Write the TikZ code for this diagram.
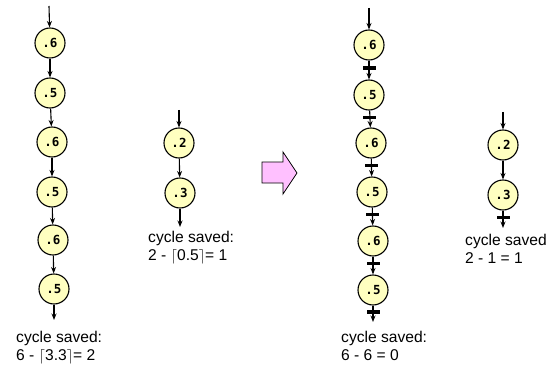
\documentclass[tikz,border=0pt]{standalone}
\usepackage{fontspec}
\setmainfont{Liberation Sans}
\newfontfamily\nodefont{DejaVu Sans Mono}
\usetikzlibrary{arrows.meta}
\begin{document}
\begin{tikzpicture}[x=1pt,y=-1pt,
  val/.style={circle,draw=black,line width=1.1pt,fill={rgb,255:red,255;green,255;blue,192},minimum size=30pt,inner sep=0pt,font=\nodefont\bfseries\fontsize{12.5}{12.5}\selectfont},
  conn/.style={line width=1.1pt,-{Stealth[length=6.5pt,width=5pt]}},
  bar/.style={fill=black,inner sep=0pt,minimum width=13pt,minimum height=3.5pt,draw=none,rectangle},
  lbl/.style={anchor=north west,inner sep=0pt,align=left,font=\fontsize{15.6}{17.5}\selectfont}]
\useasboundingbox (0,0) rectangle (555,369);
% left column
\coordinate (l0) at (49,6);
\node[val] (l1) at (50,43) {.6};
\node[val] (l2) at (50,93) {.5};
\node[val] (l3) at (52,142) {.6};
\node[val] (l4) at (52,192) {.5};
\node[val] (l5) at (53,240) {.6};
\node[val] (l6) at (54,289) {.5};
\coordinate (l7) at (54,320);
\draw[conn] (l0) -- (l1);
\draw[conn] (l1) -- (l2);
\draw[conn] (l2) -- (l3);
\draw[conn] (l3) -- (l4);
\draw[conn] (l4) -- (l5);
\draw[conn] (l5) -- (l6);
\draw[conn] (l6) -- (l7);
\node[lbl] (lt) at (16,331) {cycle saved:\\6 - $\lceil$3.3$\rceil$= 2};
% middle column
\coordinate (m0) at (179,110);
\node[val] (m1) at (179,143) {.2};
\node[val] (m2) at (180,193) {.3};
\coordinate (m3) at (180,227);
\draw[conn] (m0) -- (m1);
\draw[conn] (m1) -- (m2);
\draw[conn] (m2) -- (m3);
\node[lbl] (mt) at (148,231) {cycle saved:\\2 - $\lceil$0.5$\rceil$= 1};
% big arrow
\draw[line width=0.8pt,fill={rgb,255:red,255;green,192;blue,255}]
  (262,162) -- (283,162) -- (283,152) -- (297,173) -- (283,194) -- (283,183) -- (262,183) -- cycle;
% right column
\coordinate (r0) at (369,8);
\node[val] (r1) at (369,45) {.6};
\node[val] (r2) at (369,95) {.5};
\node[val] (r3) at (371,143) {.6};
\node[val] (r4) at (372,192) {.5};
\node[val] (r5) at (373,241) {.6};
\node[val] (r6) at (373,290) {.5};
\coordinate (r7) at (373,322);
\draw[conn] (r0) -- (r1);
\draw[conn] (r1) -- node[bar,pos=0.4]{} (r2);
\draw[conn] (r2) -- node[bar,pos=0.4]{} (r3);
\draw[conn] (r3) -- node[bar,pos=0.4]{} (r4);
\draw[conn] (r4) -- node[bar,pos=0.4]{} (r5);
\draw[conn] (r5) -- node[bar,pos=0.4]{} (r6);
\draw[conn] (r6) -- node[bar,pos=0.4]{} (r7);
\node[lbl] (rt) at (341,331) {cycle saved:\\6 - 6 = 0};
% right small column
\coordinate (s0) at (503,112);
\node[val] (s1) at (503,145) {.2};
\node[val] (s2) at (503,195) {.3};
\coordinate (s3) at (503,228);
\draw[conn] (s0) -- (s1);
\draw[conn] (s1) -- (s2);
\draw[conn] (s2) -- node[bar,pos=0.4]{} (s3);
\node[lbl] (st) at (465,234) {cycle saved\\2 - 1 = 1};
\end{tikzpicture}
\end{document}
